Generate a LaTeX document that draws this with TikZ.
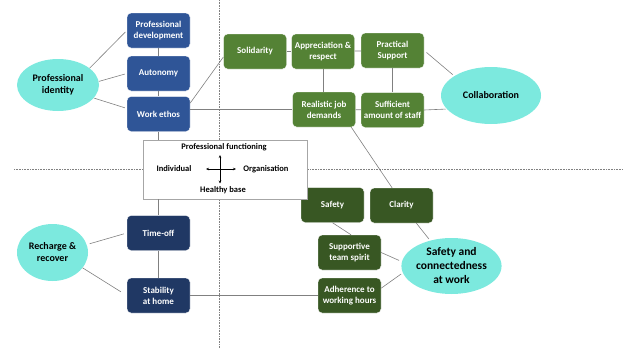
\documentclass[tikz,border=0pt]{standalone}
\usepackage{fontspec}
\setmainfont{Carlito}
\usetikzlibrary{shapes.geometric}
\usetikzlibrary{arrows.meta}

\definecolor{hubteal}{RGB}{124,233,222}
\definecolor{boxblue}{RGB}{47,85,151}
\definecolor{boxgreen}{RGB}{84,130,53}
\definecolor{boxdark}{RGB}{56,87,35}
\definecolor{boxnavy}{RGB}{32,56,100}
\definecolor{linkgray}{RGB}{128,128,128}

\tikzset{
 box/.style={rectangle, rounded corners=4pt, minimum width=63pt, minimum height=35pt,
  inner sep=1pt, align=center, text=white, font=\fontsize{9}{11}\selectfont\bfseries,
  draw=white, line width=.4pt},
 bluebox/.style={box, fill=boxblue},
 greenbox/.style={box, fill=boxgreen},
 darkbox/.style={box, fill=boxdark},
 navybox/.style={box, fill=boxnavy},
 hub/.style={ellipse, fill=hubteal, inner sep=0pt, align=center,
  font=\fontsize{10}{12}\selectfont\bfseries},
 link/.style={draw=linkgray, line width=.6pt},
 guide/.style={draw=gray, densely dotted, line width=.6pt},
 pftext/.style={font=\fontsize{8.5}{10}\selectfont\bfseries, inner sep=0pt}
}

\begin{document}
\begin{tikzpicture}[x=1pt, y=-1pt]

\useasboundingbox (0,0) rectangle (623,348);

\draw[guide] (219,0) -- (219,348);
\draw[guide] (14,169.5) -- (623,169.5);

% professional identity
\node[hub, minimum width=82pt, minimum height=52pt] (identity) at (58,85) {Professional\\identity};
\node[bluebox] (profdev) at (158.5,30.5) {Professional\\development};
\node[bluebox] (autonomy) at (158.5,73.5) {Autonomy};
\node[bluebox] (workethos) at (158.5,114) {Work ethos};

% collaboration
\node[greenbox] (solidarity) at (255,51.5) {Solidarity};
\node[greenbox] (appreciation) at (323,51.5) {Appreciation \&\\respect};
\node[greenbox] (practical) at (392.5,50.5) {Practical\\Support};
\node[greenbox] (realistic) at (324,109.5) {Realistic job\\demands};
\node[greenbox] (sufficient) at (392.5,110) {Sufficient\\amount of staff};
\node[hub, minimum width=100pt, minimum height=57pt] (collab) at (491,95.5) {Collaboration};

% safety and connectedness
\node[darkbox] (safety) at (332.5,205) {Safety};
\node[darkbox] (clarity) at (401.5,205.5) {Clarity};
\node[darkbox] (supportive) at (349.5,252.5) {Supportive\\team spirit};
\node[darkbox] (adherence) at (349.5,295.5) {Adherence to\\working hours};
\node[hub, minimum width=89pt, minimum height=56pt, font=\fontsize{11.5}{14}\selectfont\bfseries] (safeconn) at (451.5,266) {Safety and\\connectedness\\at work};

% recharge and recover
\node[hub, minimum width=71pt, minimum height=57pt] (recharge) at (52.5,252.5) {Recharge \&\\recover};
\node[navybox] (timeoff) at (158.5,233) {Time-off};
\node[navybox] (stability) at (158.5,295.5) {Stability\\at home};

% centre
\node[draw=gray!70, fill=white, line width=.6pt, minimum width=164pt, minimum height=59pt] (pf) at (225,169.5) {};
\node[pftext] (pftop) at (224,147) {Professional functioning};
\node[pftext] (pfleft) at (174,169) {Individual};
\node[pftext] (pfright) at (266,169) {Organisation};
\node[pftext] (pfbottom) at (223,190.5) {Healthy base};
\coordinate (pfw) at (206,169);
\coordinate (pfe) at (236,169);
\coordinate (pfn) at (220,155);
\coordinate (pfs) at (220,183.5);
\draw[{Stealth[length=3pt,width=2.5pt]}-{Stealth[length=3pt,width=2.5pt]}, line width=.5pt] (pfw) -- (pfe);
\draw[{Stealth[length=3pt,width=2.5pt]}-{Stealth[length=3pt,width=2.5pt]}, line width=.5pt] (pfn) -- (pfs);

% links
\draw[link, shorten >=2pt] (identity.28) -- (profdev.west);
\draw[link, shorten >=2pt] (identity.5) -- (autonomy.west);
\draw[link, shorten >=2pt] (identity.-20) -- (workethos.170);
\draw[link] (profdev) -- (autonomy);
\draw[link] (autonomy) -- (workethos);
\draw[link] (workethos.19) -- (solidarity.190);
\draw[link] (realistic.west) -- (realistic.west -| workethos.east);
\draw[link] (workethos.south) -- (workethos.south |- pf.north);

\draw[link] (solidarity) -- (appreciation);
\draw[link] (appreciation) -- (practical);
\draw[link] (appreciation) -- (appreciation |- realistic.north);
\draw[link] (practical) -- (practical |- sufficient.north);
\draw[link] (realistic) -- (sufficient);
\draw[link, shorten <=3pt, shorten >=2pt] (practical.east) -- (collab.152);
\draw[link, shorten >=1pt] (sufficient.east) -- (collab.197);
\draw[link] (realistic.-33) -- (clarity.118);

\draw[link] (safety.south) -- (supportive.85);
\draw[link, shorten >=2pt] (clarity.-50) -- (safeconn.130);
\draw[link, shorten >=3pt] (supportive.east) -- (safeconn.175);
\draw[link, shorten >=2pt] (adherence.13) -- (safeconn.188);

\draw[link] (timeoff.north |- pf.south) -- (timeoff.north);
\draw[link] (timeoff) -- (stability);
\draw[link] (stability) -- (adherence);
\draw[link, shorten <=3pt, shorten >=3pt] (recharge.13) -- (timeoff.west);
\draw[link, shorten >=7pt] (recharge.-27) -- (stability.west);

\end{tikzpicture}
\end{document}
